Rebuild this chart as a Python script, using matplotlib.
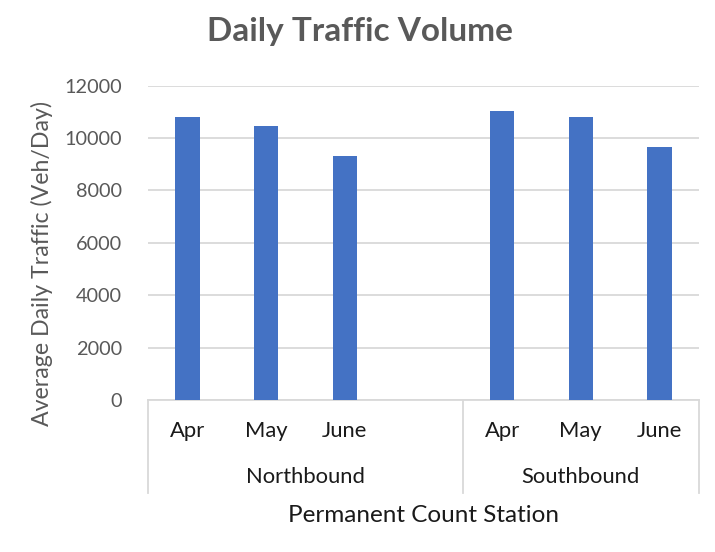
import matplotlib
matplotlib.use("Agg")
import matplotlib.pyplot as plt
from matplotlib.transforms import blended_transform_factory

plt.rcParams['font.family'] = ['Lato', 'DejaVu Sans']

title = "Daily Traffic Volume"
ylabel = "Average Daily Traffic (Veh/Day)"
xlabel = "Permanent Count Station"
groups = ["Northbound", "Southbound"]
months = ["Apr", "May", "June"]
northbound = [10790, 10470, 9330]
southbound = [11030, 10790, 9645]
yticks = [0, 2000, 4000, 6000, 8000, 10000, 12000]

bar_color = "#4472C4"
grid_color = "#D9D9D9"
text_grey = "#595959"

fig = plt.figure(figsize=(7.15, 5.52), dpi=100)
ax = fig.add_axes([0.2074, 0.2754, 0.7698, 0.5693])

# positions: NB 0,1,2 ; blank 3 ; SB 4,5,6
nb_x = [0, 1, 2]
sb_x = [4, 5, 6]
w = 0.31
ax.bar(nb_x, northbound, width=w, color=bar_color, zorder=3)
ax.bar(sb_x, southbound, width=w, color=bar_color, zorder=3)

ax.set_xlim(-0.5, 6.5)
ax.set_ylim(0, 12000)
ax.set_yticks(yticks)
ax.set_yticklabels([str(v) for v in yticks], fontsize=14.3, color=text_grey)
ax.tick_params(axis='y', length=0, pad=19)
ax.set_xticks([])
ax.grid(axis='y', color=grid_color, linewidth=1.3, zorder=0)
for s in ax.spines.values():
    s.set_visible(False)

trans = blended_transform_factory(ax.transData, ax.transAxes)
line_kw = dict(color=grid_color, linewidth=1.3, clip_on=False, transform=trans)
bottom = -0.296
ax.plot([-0.5, 6.5], [0, 0], **line_kw)
for xv in [-0.5, 3.5, 6.5]:
    ax.plot([xv, xv], [0, bottom], **line_kw)

for xs in (nb_x, sb_x):
    for xv, m in zip(xs, months):
        ax.text(xv, -0.10, m, transform=trans, ha='center', va='center', fontsize=15.8, color='#1a1a1a')
ax.text(1.5, -0.245, groups[0], transform=trans, ha='center', va='center', fontsize=15.8, color='#1a1a1a')
ax.text(5.0, -0.245, groups[1], transform=trans, ha='center', va='center', fontsize=15.8, color='#1a1a1a')

ax.text(0.5, 1 - 515/552, xlabel, transform=blended_transform_factory(ax.transAxes, fig.transFigure),
        ha='center', va='center', fontsize=17.5, color='#1a1a1a')
fig.text(42/715, 1 - 263/552, ylabel, ha='center', va='center', rotation=90, fontsize=16.7, color=text_grey)
fig.text(360/715, 1 - 32/552, title, ha='center', va='center', fontsize=24, fontweight='bold', color=text_grey)

fig.savefig("out.png", dpi=100)
